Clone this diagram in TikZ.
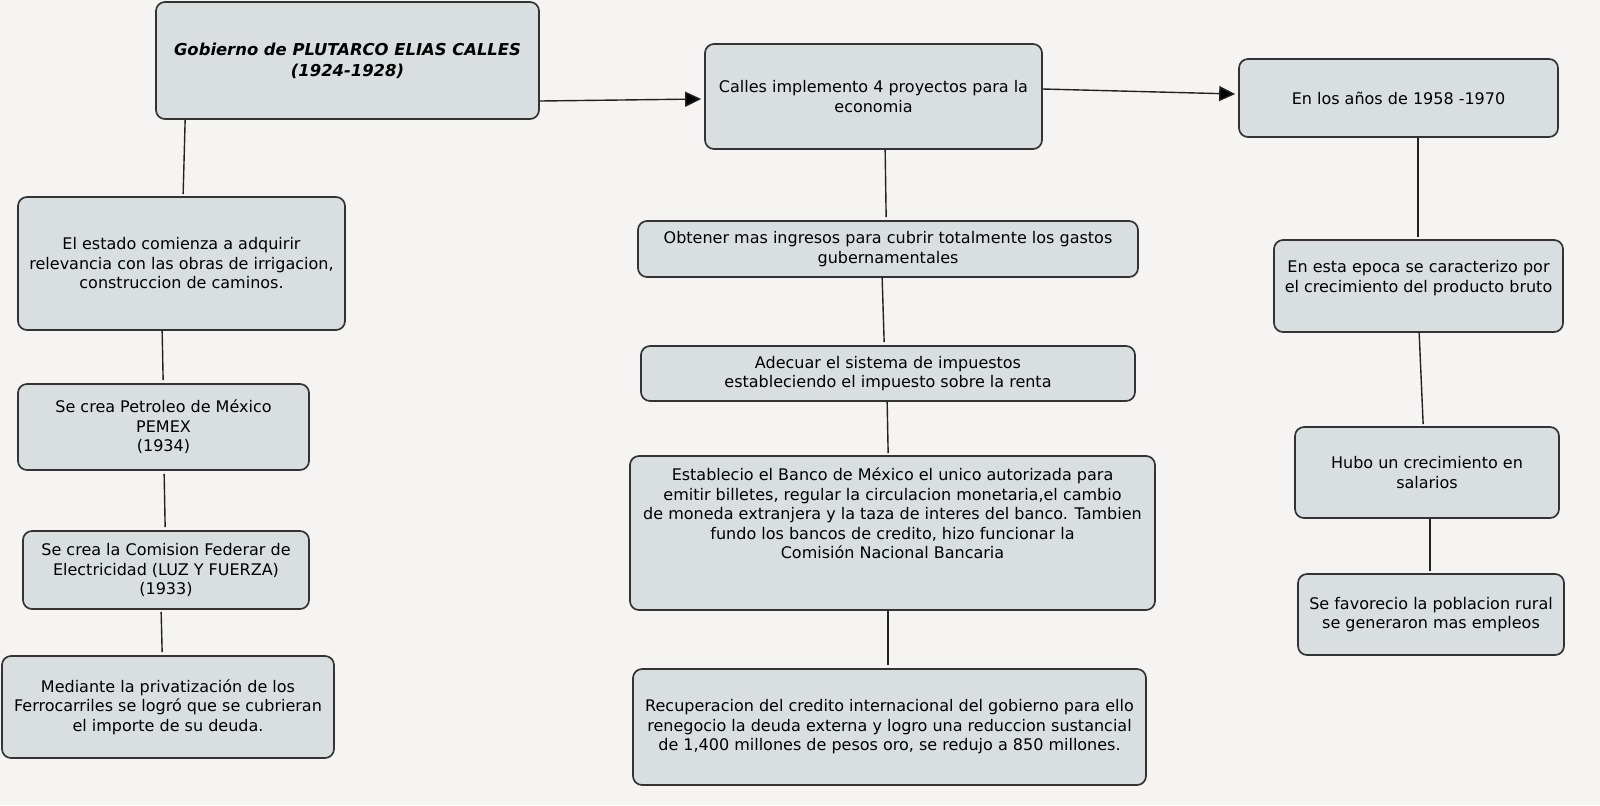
\documentclass[tikz,border=0pt]{standalone}
\usepackage{fontspec}
\setmainfont{DejaVu Sans}
\usetikzlibrary{arrows.meta,positioning}

\definecolor{paper}{HTML}{F5F4F2}
\definecolor{boxfill}{HTML}{D9DEE0}
\definecolor{boxline}{HTML}{333333}
\definecolor{wire}{HTML}{222222}

\tikzset{
  box/.style={draw=boxline, fill=boxfill, line width=0.85pt, rounded corners=4.5pt,
    align=center, inner sep=2pt, font=\fontsize{8}{9.75}\selectfont},
  link/.style={draw=wire, line width=0.7pt},
}

\begin{document}
\begin{tikzpicture}[x=0.5pt, y=-0.5pt, >={Triangle[length=8pt,width=7.5pt,fill=black]}]

    \useasboundingbox[fill=paper] (0,0) rectangle (1600,805);

    % Add the boxes
    \node[box, minimum width=191.5pt, minimum height=58.5pt, font=\fontsize{8.2}{10.5}\selectfont\bfseries\itshape]
      (gob) at (347.5,60.5) {Gobierno de PLUTARCO ELIAS CALLES\\(1924-1928)};
    \node[box, minimum width=168.5pt, minimum height=52.5pt]
      (calles) at (873.5,96.5) {Calles implemento 4 proyectos para la\\economia};
    \node[box, minimum width=159.5pt, minimum height=39pt]
      (anos) at (1398.5,98) {En los años de 1958 -1970};

    \node[box, minimum width=163.5pt, minimum height=66.5pt]
      (estado) at (181.5,263.5) {El estado comienza a adquirir\\relevancia con las obras de irrigacion,\\construccion de caminos.};
    \node[box, minimum width=145.5pt, minimum height=43pt]
      (pemex) at (163.5,427) {Se crea Petroleo de México\\PEMEX\\(1934)};
    \node[box, minimum width=143pt, minimum height=39pt]
      (cfe) at (166,570) {Se crea la Comision Federar de\\Electricidad (LUZ Y FUERZA)\\(1933)};
    \node[box, minimum width=166pt, minimum height=51pt]
      (ferro) at (168,707) {Mediante la privatización de los\\Ferrocarriles se logró que se cubrieran\\el importe de su deuda.};

    \node[box, minimum width=250pt, minimum height=28pt]
      (ingresos) at (888,249) {Obtener mas ingresos para cubrir totalmente los gastos\\gubernamentales};
    \node[box, minimum width=247pt, minimum height=27.5pt]
      (impuestos) at (888,373.5) {Adecuar el sistema de impuestos\\estableciendo el impuesto sobre la renta};
    \node[box, minimum width=262.5pt, minimum height=77pt]
      (banco) at (892.5,533) {Establecio el Banco de México el unico autorizada para\\emitir billetes, regular la circulacion monetaria,el cambio\\de moneda extranjera y la taza de interes del banco. Tambien\\fundo los bancos de credito, hizo funcionar la\\Comisión Nacional Bancaria\\~\\~};
    \node[box, minimum width=256.5pt, minimum height=58pt]
      (credito) at (889.5,727) {Recuperacion del credito internacional del gobierno para ello\\renegocio la deuda externa y logro una reduccion sustancial\\de 1,400 millones de pesos oro, se redujo a 850 millones.};

    \node[box, minimum width=144.5pt, minimum height=46pt]
      (epoca) at (1418.5,286) {En esta epoca se caracterizo por\\el crecimiento del producto bruto\\~};
    \node[box, minimum width=132pt, minimum height=45.5pt]
      (salarios) at (1427,472.5) {Hubo un crecimiento en\\salarios};
    \node[box, minimum width=133pt, minimum height=40.5pt]
      (rural) at (1431,614.5) {Se favorecio la poblacion rural\\se generaron mas empleos};

    % Connect the boxes
    \draw[link, ->] ([yshift=-20.25pt]gob.east) -- ([yshift=-1.25pt, xshift=-1.5pt]calles.west);
    \draw[link, ->] ([yshift=3.75pt]calles.east) -- ([yshift=2pt, xshift=-1.5pt]anos.west);

    \draw[link] ([xshift=15pt]gob.south west) -- ([xshift=83pt, yshift=1pt]estado.north west);
    \draw[link] ([xshift=72.5pt]estado.south west) -- ([xshift=73pt, yshift=1.5pt]pemex.north west);
    \draw[link] ([xshift=73.5pt, yshift=-1.5pt]pemex.south west) -- ([xshift=71.5pt, yshift=1.5pt]cfe.north west);
    \draw[link] ([xshift=69.5pt, yshift=-1pt]cfe.south west) -- ([xshift=80.5pt, yshift=1.5pt]ferro.north west);

    \draw[link] ([xshift=90.5pt]calles.south west) -- ([xshift=124.5pt, yshift=1.5pt]ingresos.north west);
    \draw[link] ([xshift=122.5pt]ingresos.south west) -- ([xshift=122pt, yshift=1.5pt]impuestos.north west);
    \draw[link] ([xshift=123.5pt]impuestos.south west) -- ([xshift=129.5pt, yshift=1pt]banco.north west);
    \draw[link] ([xshift=129.5pt]banco.south west) -- ([xshift=128pt, yshift=1.5pt]credito.north west);

    \draw[link] ([xshift=90pt]anos.south west) -- ([xshift=72.5pt, yshift=1pt]epoca.north west);
    \draw[link] ([xshift=73pt]epoca.south west) -- ([xshift=64.5pt, yshift=1pt]salarios.north west);
    \draw[link] ([xshift=68pt]salarios.south west) -- ([xshift=66.5pt, yshift=1pt]rural.north west);

\end{tikzpicture}
\end{document}
